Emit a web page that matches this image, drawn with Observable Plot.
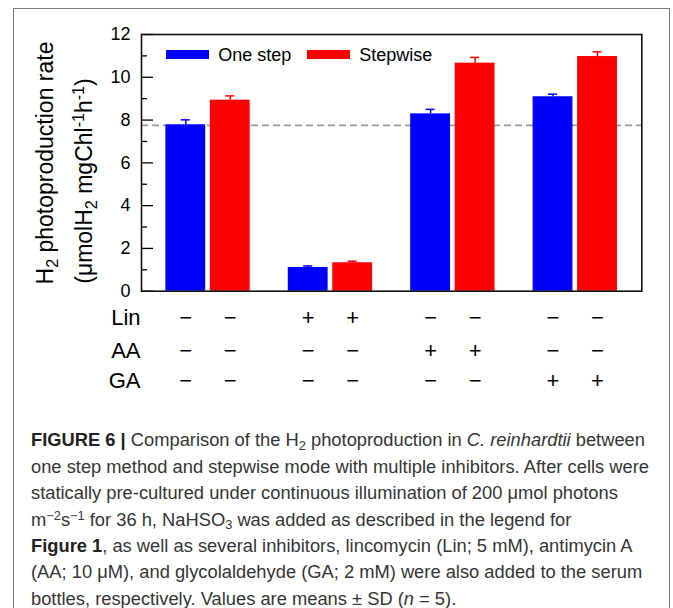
<!DOCTYPE html>
<html><head><meta charset="utf-8">
<script src="https://cdn.jsdelivr.net/npm/d3@7"></script>
<script src="https://cdn.jsdelivr.net/npm/@observablehq/plot@0.6"></script>
<style>
html,body{margin:0;padding:0;background:#fff}
body{width:673px;height:608px;overflow:hidden;position:relative;font-family:"Liberation Sans",Arial,sans-serif;color:#000}
#box{position:absolute;left:13px;top:8px;width:657px;height:700px;border:1px solid #7a7a7a;box-sizing:border-box}
#chart{position:absolute;left:0;top:0}
.ytitle{position:absolute;white-space:nowrap;font-size:23px;line-height:23px;transform:translate(-50%,-50%) rotate(-90deg)}
.ytitle sub{font-size:0.7em;line-height:0;vertical-align:baseline;position:relative;top:0.3em}
.ytitle sup{font-size:0.7em;line-height:0;vertical-align:baseline;position:relative;top:-0.5em}
.sw{position:absolute;height:9px;width:43px}
.lg{position:absolute;font-size:18px;line-height:18px;white-space:nowrap}
#cap{position:absolute;left:31px;top:0;transform-origin:0 0;color:#353535}
.cl{position:absolute;left:0;white-space:nowrap;font-size:17.5px;line-height:20px}
.cl b{color:#222}
.cl sub{font-size:0.7em;line-height:0;vertical-align:baseline;position:relative;top:0.3em}
.cl sup{font-size:0.7em;line-height:0;vertical-align:baseline;position:relative;top:-0.45em}
</style></head><body>
<div id="box"></div>
<div id="chart"></div>
<div class="ytitle" style="left:45px;top:163px">H<sub>2</sub> photoproduction rate</div>
<div class="ytitle" style="left:83.5px;top:181px">(μmolH<sub>2</sub> mgChl<sup>-1</sup>h<sup>-1</sup>)</div>
<div id="legend"></div>
<div id="cap"></div>
<script>
// ---- data ----
const groups = ["Control", "Lin", "AA", "GA"];
const series = ["One step", "Stepwise"];
const oneStep = [7.78, 1.11, 8.29, 9.09];
const oneStepSD = [0.23, 0.07, 0.21, 0.12];
const stepwise = [8.93, 1.33, 10.66, 10.97];
const stepwiseSD = [0.20, 0.07, 0.27, 0.22];
const referenceLine = 7.75;
const rowLabels = ["Lin", "AA", "GA"];
const linSigns = [["−", "−"], ["+", "+"], ["−", "−"], ["−", "−"]];
const aaSigns = [["−", "−"], ["−", "−"], ["+", "+"], ["−", "−"]];
const gaSigns = [["−", "−"], ["−", "−"], ["−", "−"], ["+", "+"]];
const yTicks = [0, 2, 4, 6, 8, 10, 12];
const yMinorTicks = [1, 3, 5, 7, 9, 11];
const colors = ["#0000ff", "#ff0000"];

// ---- layout constants (pixels, styling only) ----
const pairGap = 44.5;      // offset of the second bar inside a group band
const half = 22.25;        // bar centre offset from group centre
const capIn = 15.4;        // inset giving a ~9px error cap
const rowDy = [27, 60, 90];

// ---- derived tables ----
const seriesData = [
  groups.map((g, i) => ({group: g, value: oneStep[i], sd: oneStepSD[i]})),
  groups.map((g, i) => ({group: g, value: stepwise[i], sd: stepwiseSD[i]}))
];
const signRows = [linSigns, aaSigns, gaSigns];

const seriesMarks = seriesData.flatMap((data, s) => {
  const left = s === 0;
  return [
    Plot.barY(data, {x: "group", y: "value", fill: colors[s], insetLeft: left ? 0 : pairGap, insetRight: left ? pairGap : 0}),
    Plot.ruleX(data, {x: "group", y1: "value", y2: d => d.value + d.sd, stroke: colors[s], strokeWidth: 1.5, dx: left ? -half : half}),
    Plot.tickY(data, {x: "group", y: d => d.value + d.sd, stroke: colors[s], strokeWidth: 1.5,
      insetLeft: left ? capIn : pairGap + capIn, insetRight: left ? pairGap + capIn : capIn})
  ];
});

const tableMarks = signRows.flatMap((signs, r) => [
  ...[0, 1].map(s => Plot.text(groups, {x: d => d, y: () => 0, dy: rowDy[r], dx: s === 0 ? -half : half,
      text: (d, i) => signs[i][s], fontSize: 22, fill: "#000"})),
  Plot.text([rowLabels[r]], {frameAnchor: "left", y: () => 0, dy: rowDy[r], dx: -1, text: d => d, textAnchor: "end", fontSize: 22, fill: "#000"})
]);

const chart = Plot.plot({
  width: 673,
  height: 400,
  marginLeft: 141,
  marginRight: 31.7,
  marginTop: 34,
  marginBottom: 109.3,
  style: {fontFamily: "'Liberation Sans', Arial, sans-serif", fontSize: "18px", color: "#000", background: "transparent", overflow: "visible"},
  x: {domain: groups, paddingInner: 0.311, paddingOuter: 0.199, round: false, axis: null, label: null},
  y: {domain: [0, 12], axis: null},
  marks: [
    Plot.ruleY([referenceLine], {stroke: "#9a9a9a", strokeWidth: 1.6, strokeDasharray: "7,4"}),
    ...seriesMarks,
    Plot.axisY(yTicks, {anchor: "left", tickSize: -12, tickPadding: 23, strokeWidth: 1.3, fontSize: 18, label: null}),
    Plot.axisY(yMinorTicks, {anchor: "left", tickSize: -6, tickFormat: () => "", strokeWidth: 1.3, label: null}),
    Plot.frame({stroke: "#111", strokeWidth: 1.6}),
    ...tableMarks
  ]
});
document.getElementById("chart").appendChild(chart);

// ---- legend (inside plot, top-left) ----
const legend = document.getElementById("legend");
const legendPos = [{sx: 165.5, tx: 218.3}, {sx: 307.3, tx: 359.3}];
series.forEach((s, i) => {
  const sw = document.createElement("div");
  sw.className = "sw";
  sw.style.left = legendPos[i].sx + "px";
  sw.style.top = "50.3px";
  sw.style.background = colors[i];
  legend.appendChild(sw);
  const t = document.createElement("div");
  t.className = "lg";
  t.style.left = legendPos[i].tx + "px";
  t.style.top = "45.8px";
  t.textContent = s;
  legend.appendChild(t);
});

// ---- caption ----
const captionLines = [
  '<b>FIGURE 6 |</b> Comparison of the H<sub>2</sub> photoproduction in <i>C. reinhardtii</i> between',
  'one step method and stepwise mode with multiple inhibitors. After cells were',
  'statically pre-cultured under continuous illumination of 200 μmol photons',
  'm<sup>−2</sup>s<sup>−1</sup> for 36 h, NaHSO<sub>3</sub> was added as described in the legend for',
  '<b>Figure 1</b>, as well as several inhibitors, lincomycin (Lin; 5 mM), antimycin A',
  '(AA; 10 μM), and glycolaldehyde (GA; 2 mM) were also added to the serum',
  'bottles, respectively. Values are means ± SD (<i>n</i> = 5).'
];
const cap = document.getElementById("cap");
captionLines.forEach((html, i) => {
  const d = document.createElement("div");
  d.className = "cl";
  d.style.top = (446.5 + i * 26.4 - 16.1) + "px";
  d.innerHTML = html;
  cap.appendChild(d);
});
const first = cap.firstChild;
const natural = first.getBoundingClientRect().width;
const k = 614 / natural;
cap.style.transform = `scaleX(${k})`;
</script>
</body></html>
